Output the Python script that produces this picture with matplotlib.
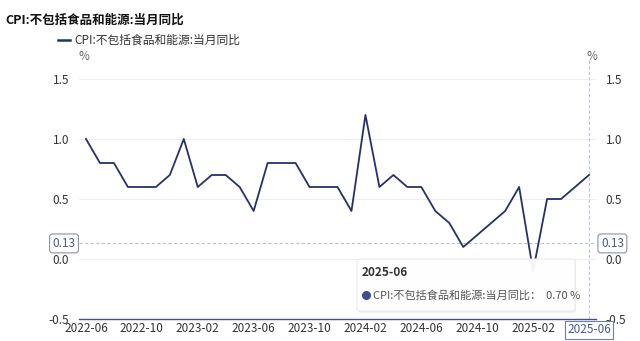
import numpy as np
import matplotlib
matplotlib.use('Agg')
from matplotlib import pyplot as plt
from matplotlib.patches import FancyBboxPatch

plt.rcParams['font.family'] = ['Noto Sans CJK SC', 'DejaVu Sans']

# monthly data, 2022-06 .. 2025-06
months = ['2022-06', '2022-07', '2022-08', '2022-09', '2022-10', '2022-11', '2022-12',
          '2023-01', '2023-02', '2023-03', '2023-04', '2023-05', '2023-06', '2023-07',
          '2023-08', '2023-09', '2023-10', '2023-11', '2023-12',
          '2024-01', '2024-02', '2024-03', '2024-04', '2024-05', '2024-06', '2024-07',
          '2024-08', '2024-09', '2024-10', '2024-11', '2024-12',
          '2025-01', '2025-02', '2025-03', '2025-04', '2025-05', '2025-06']
cpi = [1.0, 0.8, 0.8, 0.6, 0.6, 0.6, 0.7,
       1.0, 0.6, 0.7, 0.7, 0.6, 0.4, 0.8, 0.8, 0.8, 0.6, 0.6, 0.6,
       0.4, 1.2, 0.6, 0.7, 0.6, 0.6, 0.4, 0.3, 0.1, 0.2, 0.3, 0.4,
       0.6, -0.1, 0.5, 0.5, 0.6, 0.7]
yticks = [-0.5, 0.0, 0.5, 1.0, 1.5]
cross_y = 0.13
series_name = 'CPI:不包括食品和能源:当月同比'

line_col = '#27306a'
txt_col = '#333333'
box_col = '#4a5b8c'

fig = plt.figure(figsize=(6.4, 3.41), dpi=100)
ax = fig.add_axes([79/640, 1-319/341, (596-79)/640, (319-79)/341])

x = np.arange(len(months))
ax.plot(x, cpi, color=line_col, lw=1.3, zorder=3)

ax.set_xlim(-0.5, len(months) - 0.5)
ax.set_ylim(-0.5, 1.5)
ax.set_yticks(yticks)
ax.set_yticklabels(['%.1f' % v for v in yticks])
ax.set_xticks(x[::4])
ax.set_xticklabels(months[::4])
for v in yticks[1:]:
    ax.axhline(v, color='#efefef', lw=0.8, zorder=1)

for s in ['top', 'right', 'left']:
    ax.spines[s].set_visible(False)
ax.spines['bottom'].set_color('#4a5078')
ax.spines['bottom'].set_linewidth(1.0)
ax.tick_params(axis='both', length=0, labelsize=8.5, colors=txt_col)
ax.tick_params(axis='x', pad=2)
ax.tick_params(axis='y', pad=7)
ax.tick_params(axis='y', labelright=True)

# crosshair
ax.axhline(cross_y, color='#b8c4dc', lw=0.8, ls=(0, (3, 2)), zorder=2)
ax.axvline(x[-1], ymin=0, ymax=1.08, color='#b8c4dc', lw=0.8, ls=(0, (3, 2)), zorder=2, clip_on=False)
bb = dict(boxstyle='round,pad=0.25', fc='white', ec='#8a93a8', lw=0.8)
ax.text(-0.75, cross_y, '0.13', ha='right', va='center', fontsize=8.5, color=box_col,
        bbox=bb, zorder=5, clip_on=False)
ax.text(len(months) - 0.5 + 0.35, cross_y, '0.13', ha='left', va='center', fontsize=8.5,
        color=box_col, bbox=bb, zorder=5, clip_on=False)
ax.text(x[-1], -0.5 - 0.035, '2025-06', ha='center', va='top', fontsize=8.5, color=box_col,
        bbox=dict(boxstyle='square,pad=0.2', fc='white', ec='#6f7fb0', lw=0.8), zorder=6)

# title, legend, units
fig.text(5/640, 1-20/341, series_name, fontsize=9, fontweight='bold', color='#111111', va='center')
fig.add_artist(plt.Line2D([58/640, 70/640], [1-40/341, 1-40/341], color=line_col, lw=1.8))
fig.text(74/640, 1-40/341, series_name, fontsize=8.5, color=txt_col, va='center')
fig.text(84/640, 1-57/341, '%', fontsize=8.5, color='#666666', va='center', ha='center')
fig.text(592/640, 1-57/341, '%', fontsize=8.5, color='#666666', va='center', ha='center')

# tooltip (with a soft shadow)
shadow = FancyBboxPatch((358/640, 1-313/341), 218/640, 52/341,
                        boxstyle='round,pad=0,rounding_size=0.006', transform=fig.transFigure,
                        fc='#000000', ec='none', alpha=0.06, zorder=9)
fig.add_artist(shadow)
tip = FancyBboxPatch((357/640, 1-311/341), 218/640, 52/341,
                     boxstyle='round,pad=0,rounding_size=0.006', transform=fig.transFigure,
                     fc='white', ec='#e8e8e8', lw=0.8, alpha=0.95, zorder=10)
fig.add_artist(tip)
fig.text(362/640, 1-273/341, '2025-06', fontsize=8.5, fontweight='bold', color='#333333',
         va='center', zorder=11)
fig.add_artist(plt.Line2D([366/640], [1-295/341], marker='o', ms=5.5, color='#3f4d93', zorder=11))
fig.text(373/640, 1-295/341, series_name + '：  %.2f %%' % cpi[-1], fontsize=8,
         color='#555555', va='center', zorder=11)

plt.savefig('out.png', dpi=100)
